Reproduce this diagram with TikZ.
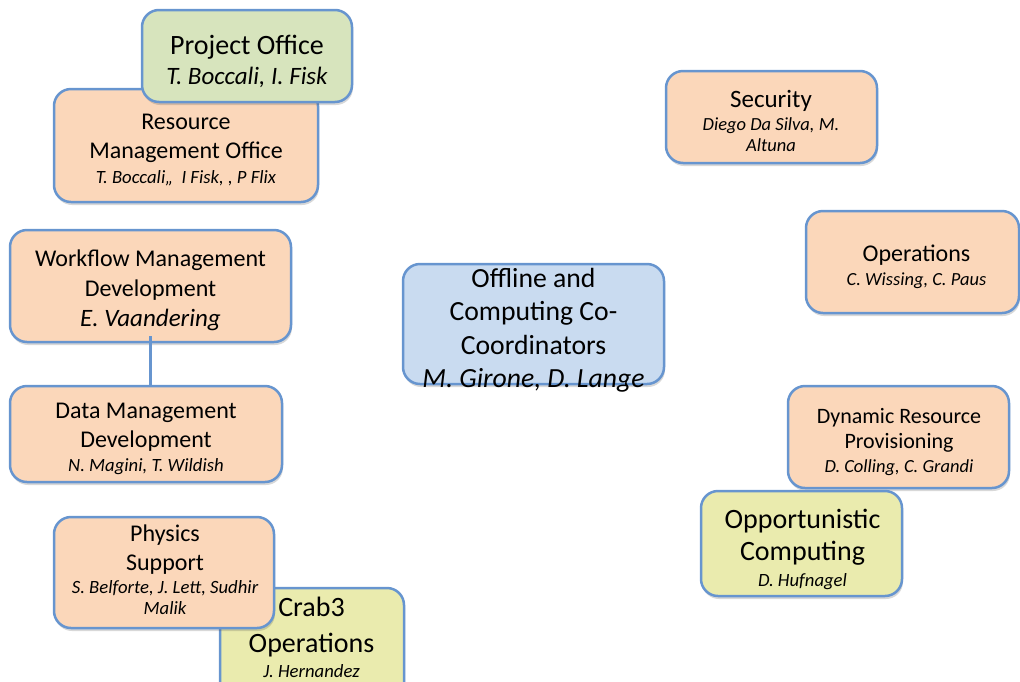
\documentclass[tikz,border=0pt]{standalone}
\usepackage{fontspec}
\setmainfont{Carlito}
\usetikzlibrary{shadows}

\definecolor{edge}{HTML}{6795CF}
\definecolor{peach}{HTML}{FBD7BA}
\definecolor{olive}{HTML}{D7E4BD}
\definecolor{lemon}{HTML}{EAEBAE}
\definecolor{sky}{HTML}{C9DBF0}

% size and baseline skip in one go
\newcommand{\fs}[2]{\fontsize{#1}{#2}\selectfont}
\newcommand{\who}{\fontsize{18.7}{20}\selectfont\itshape}

\tikzset{
  unitbox/.style={draw=edge, line width=2.5pt, rounded corners=17pt, inner sep=0pt,
    drop shadow={shadow xshift=1pt, shadow yshift=-3pt, opacity=.22, fill=black!70}},
  txt/.style={align=center, inner sep=0pt, text=black},
  conn/.style={draw=edge, line width=2.5pt}
}

\begin{document}
\begin{tikzpicture}[x=1pt, y=-1pt]
\useasboundingbox (0,0) rectangle (1020,681);

% left column
\node[unitbox, fill=peach, minimum width=264pt, minimum height=113pt] (rmo) at (186,145.5) {};
\node[txt, font=\fs{24}{29}] (rmo-t) at (186,150.5) {Resource\\Management Office\\[-4pt]{\who T. Boccali,,\ \ I Fisk, , P Flix}};

\node[unitbox, fill=olive, minimum width=210pt, minimum height=92pt] (proj) at (247,56) {};
\node[txt, font=\fs{28}{30}] (proj-t) at (247,61) {Project Office\\{\fs{25}{30}\itshape T. Boccali, I. Fisk}};

\node[unitbox, fill=peach, minimum width=281pt, minimum height=112pt] (wmd) at (150.5,286) {};
\node[txt, font=\fs{24}{30}] (wmd-t) at (150.5,290) {Workflow Management\\Development\\{\fs{25}{30}\itshape E. Vaandering}};

\node[unitbox, fill=peach, minimum width=272pt, minimum height=96pt] (dmd) at (146,434) {};
\node[txt, font=\fs{24}{29}] (dmd-t) at (146,438.7) {Data Management\\Development\\[-5pt]{\who N. Magini, T. Wildish}};

\draw[conn] ([yshift=7pt]wmd.south) -- (wmd.south |- dmd.north);

% this box runs on below the lower edge
\node[unitbox, fill=lemon, minimum width=184pt, minimum height=112pt] (crab) at (312,644) {};
\node[txt, font=\fs{28}{36}] (crab-t) at (311.5,637.5) {Crab3\\Operations\\[-11.5pt]{\who J. Hernandez}};

\node[unitbox, fill=peach, minimum width=220pt, minimum height=111pt] (phys) at (164,572.5) {};
\node[txt, font=\fs{24}{29}] (phys-t) at (165,570.2) {Physics\\Support\\[-6pt]{\who S. Belforte, J. Lett, Sudhir}\\[-8pt]{\who Malik}};

% centre
\node[unitbox, fill=sky, minimum width=261pt, minimum height=120pt] (off) at (533.5,324) {};
\node[txt, font=\fs{27.7}{33.4}] (off-t) at (533.5,330.3) {Offline and\\Computing Co-\\Coordinators\\{\itshape M. Girone, D. Lange}};

% right column
\node[unitbox, fill=peach, minimum width=211pt, minimum height=92pt] (sec) at (771.5,117) {};
\node[txt, font=\fs{25}{23}] (sec-t) at (771,120.5) {Security\\{\fs{18.5}{23}\itshape Diego Da Silva, M.}\\[-2pt]{\fs{18.5}{23}\itshape Altuna}};

\node[unitbox, fill=peach, minimum width=213pt, minimum height=102pt] (ops) at (912.5,262) {};
\node[txt, font=\fs{24}{24}] (ops-t) at (916.5,266.5) {Operations\\{\fs{18.5}{24}\itshape C. Wissing, C. Paus}};

\node[unitbox, fill=peach, minimum width=221pt, minimum height=102pt] (drp) at (898.5,437) {};
\node[txt, font=\fs{22}{25}] (drp-t) at (899,441.8) {Dynamic Resource\\Provisioning\\[-1pt]{\fs{18.5}{25}\itshape D. Colling, C. Grandi}};

\node[unitbox, fill=lemon, minimum width=201pt, minimum height=105pt] (opp) at (801.5,543.5) {};
\node[txt, font=\fs{28}{32}] (opp-t) at (802.5,549.5) {Opportunistic\\Computing\\[-6.5pt]{\who D. Hufnagel}};

\end{tikzpicture}
\end{document}
